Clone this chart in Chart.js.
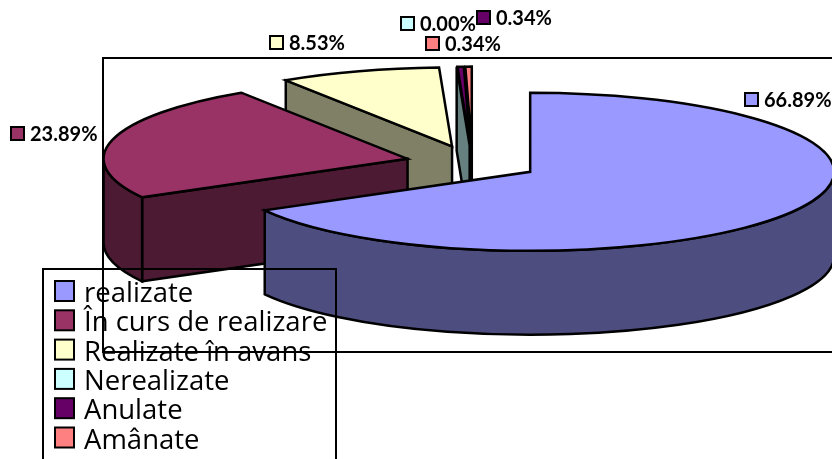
<!DOCTYPE html>
<html>
<head>
<meta charset="utf-8">
<script src="https://cdn.jsdelivr.net/npm/chart.js@4"></script>
<style>
    html, body { margin: 0; padding: 0; background: #fff; overflow: hidden; }
    canvas { display: block; }
</style>
</head>
<body>
<canvas id="pieChart" width="832" height="459"></canvas>
<script>
const categories = ['realizate', 'În curs de realizare', 'Realizate în avans', 'Nerealizate', 'Anulate', 'Amânate'];
const percentages = [66.89, 23.89, 8.53, 0.00, 0.34, 0.34];
const sliceColors = ['#9999FF', '#993366', '#FFFFCC', '#CCFFFF', '#660066', '#FF8080'];
const wallColors = ['#4D4D80', '#4D1A33', '#808066', '#668080', '#330033', '#804040'];

// Where the swatch of each value label sits, the pie has no room for them
const labelAnchors = [[744, 92], [10, 126], [269, 35], [400, 16], [476, 10], [425, 36]];

const TILT = 79 / 304;
const DEPTH = 84;
const EXPLODE = 0.22;

const stroked = (ctx, fill, buildPath) => {
    ctx.beginPath();
    buildPath();
    ctx.closePath();
    ctx.fillStyle = fill;
    ctx.fill();
    ctx.stroke();
};

// Chart.js has no 3D pie, so the arcs it lays out are redrawn as tilted slices
const pie3d = {
    id: 'pie3d',
    beforeDatasetsDraw(chart) {
        const ctx = chart.ctx;
        const arcs = chart.getDatasetMeta(0).data;

        ctx.save();
        ctx.strokeStyle = '#000';
        ctx.lineWidth = 2;

        // Plot area frame, its right side runs off the picture
        ctx.strokeRect(103, 58, 760, 294);

        ctx.lineWidth = 2.5;

        // Back to front, the first slice has to end up on top
        for (let i = arcs.length - 1; i >= 0; i--) {
            const arc = arcs[i];
            const mid = (arc.startAngle + arc.endAngle) / 2;
            const r = arc.outerRadius;
            const ry = r * TILT;
            const cx = arc.x + Math.cos(mid) * r * EXPLODE;
            const cy = arc.y + Math.sin(mid) * ry * EXPLODE;

            const radialWall = (angle) => {
                const ex = cx + Math.cos(angle) * r;
                const ey = cy + Math.sin(angle) * ry;
                stroked(ctx, wallColors[i], () => {
                    ctx.moveTo(cx, cy);
                    ctx.lineTo(ex, ey);
                    ctx.lineTo(ex, ey + DEPTH);
                    ctx.lineTo(cx, cy + DEPTH);
                });
            };

            // Cut faces only show when they turn towards the viewer
            if (Math.cos(arc.startAngle) < -1e-6) radialWall(arc.startAngle);
            if (Math.cos(arc.endAngle) > 1e-6) radialWall(arc.endAngle);

            // Outer wall, only the front half of the rim
            const from = Math.max(arc.startAngle, 0);
            const to = Math.min(arc.endAngle, Math.PI);
            if (to > from) {
                stroked(ctx, wallColors[i], () => {
                    ctx.ellipse(cx, cy, r, ry, 0, from, to);
                    ctx.ellipse(cx, cy + DEPTH, r, ry, 0, to, from, true);
                });
            }

            if (arc.endAngle > arc.startAngle) {
                stroked(ctx, sliceColors[i], () => {
                    ctx.moveTo(cx, cy);
                    ctx.ellipse(cx, cy, r, ry, 0, arc.startAngle, arc.endAngle);
                });
            }
        }

        ctx.restore();
        return false;
    },
    afterDraw(chart) {
        const ctx = chart.ctx;
        ctx.save();
        ctx.strokeStyle = '#000';
        ctx.lineWidth = 2;
        ctx.textBaseline = 'alphabetic';

        // Value labels
        ctx.font = 'bold 20px Lato';
        percentages.forEach((value, i) => {
            const [x, y] = labelAnchors[i];
            ctx.fillStyle = sliceColors[i];
            ctx.fillRect(x + 1, y + 1, 13, 13);
            ctx.strokeRect(x + 1, y + 1, 13, 13);
            ctx.fillStyle = '#000';
            ctx.fillText(value.toFixed(2) + '%', x + 20, y + 15);
        });

        // Legend, no fill so the chart shows through and cut off by the bottom edge
        ctx.strokeRect(43, 269, 293, 220);
        ctx.font = '27.5px "Open Sans"';
        chart.data.labels.forEach((label, i) => {
            const y = 281 + i * 29.3;
            ctx.fillStyle = sliceColors[i];
            ctx.fillRect(55, y, 19, 20);
            ctx.strokeRect(55, y, 19, 20);
            ctx.fillStyle = '#000';
            ctx.fillText(label, 84, y + 21);
        });

        ctx.restore();
    }
};

new Chart(document.getElementById('pieChart'), {
    type: 'pie',
    data: {
        labels: categories,
        datasets: [
            {
                data: percentages,
                backgroundColor: sliceColors,
                radius: 304
            }
        ]
    },
    options: {
        responsive: false,
        animation: false,
        // Pushes the pie centre to 472,163
        layout: { padding: { left: 113, bottom: 133 } },
        plugins: {
            legend: { display: false },
            tooltip: { enabled: false }
        }
    },
    plugins: [pie3d]
});
</script>
</body>
</html>
